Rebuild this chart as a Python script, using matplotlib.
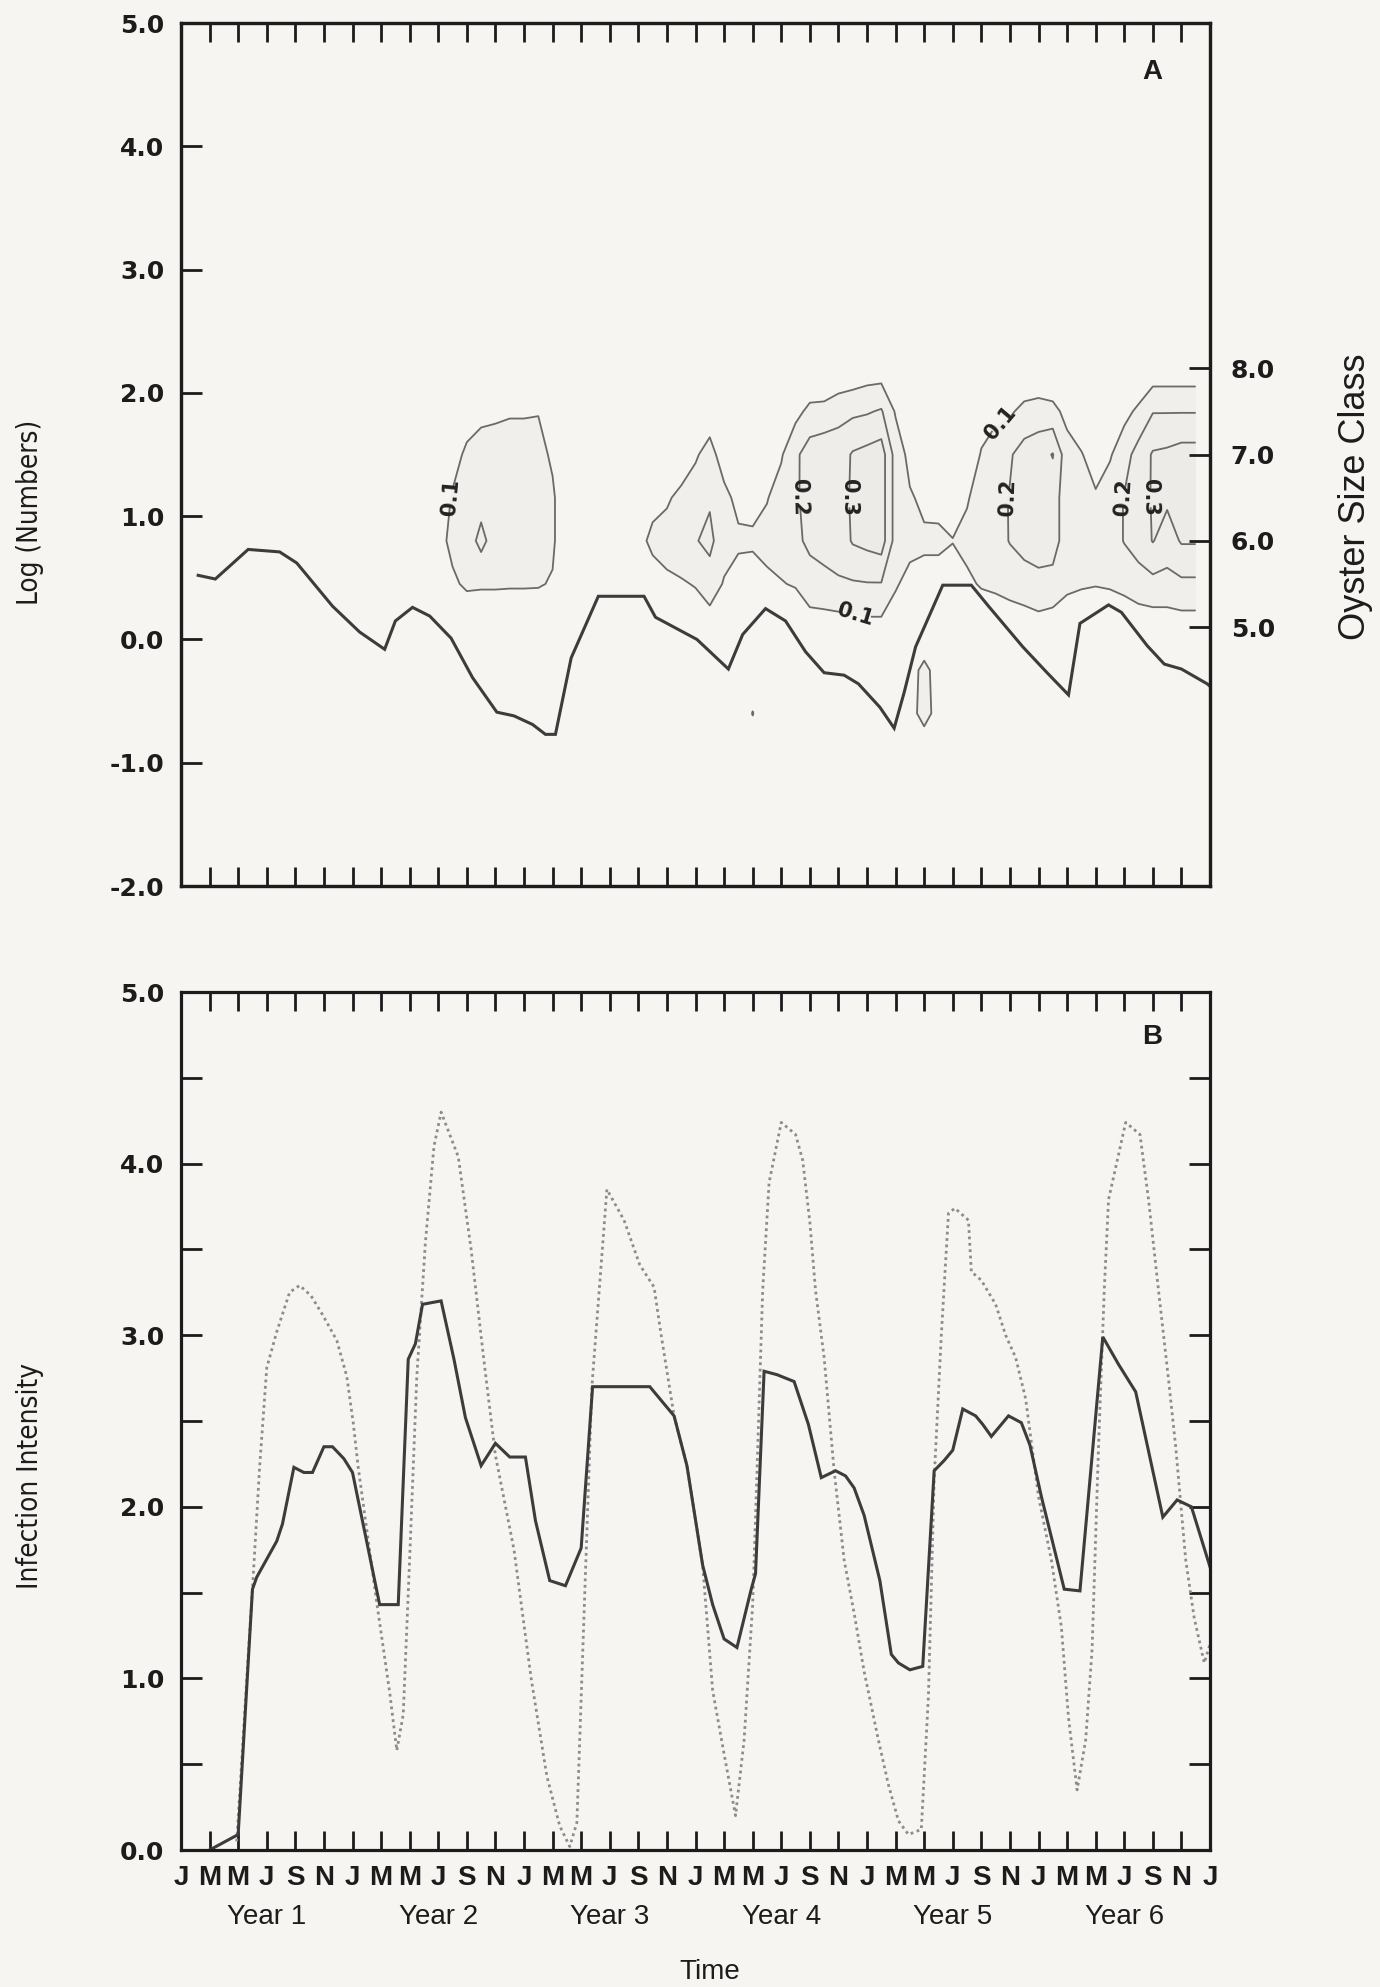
import numpy as np
import matplotlib.pyplot as plt
from matplotlib.ticker import FormatStrFormatter, MultipleLocator
from matplotlib.transforms import blended_transform_factory

# ---- panel A: log numbers (thick line)
log_time = [1.2, 2.4, 4.7, 6.9, 8.1, 10.6, 12.5, 14.25, 15.0, 16.2, 17.4, 18.9, 20.4,
            22.1, 23.3, 24.6, 25.5, 26.2, 27.3, 29.2, 32.4, 33.2, 36.1, 38.3, 39.3,
            40.9, 42.3, 43.7, 45.0, 46.4, 47.4, 48.9, 49.9, 50.6, 51.4, 53.3, 55.3,
            56.5, 58.9, 60.6, 62.1, 62.9, 64.9, 65.8, 67.6, 68.8, 70.0, 71.8, 72.0]
log_numbers = [0.52, 0.49, 0.73, 0.71, 0.62, 0.27, 0.06, -0.08, 0.15, 0.26, 0.19, 0.01, -0.31,
               -0.59, -0.62, -0.69, -0.77, -0.77, -0.15, 0.35, 0.35, 0.18, 0.0, -0.24, 0.04,
               0.25, 0.15, -0.10, -0.27, -0.29, -0.36, -0.55, -0.72, -0.43, -0.06, 0.44, 0.44,
               0.27, -0.06, -0.27, -0.45, 0.13, 0.28, 0.22, -0.05, -0.20, -0.24, -0.36, -0.38]

# ---- panel A: contour field, months x oyster size class
grid_months = list(range(17, 72))
size_classes = [3.5, 4.0, 4.5, 5.0, 5.5, 6.0, 6.5, 7.0, 7.5, 8.0]
# one column per month, values for each size class (3.5 ... 8.0)
prevalence_cols = [
    [0, 0, 0, 0, 0, 0, 0, 0, 0, 0],                              # 17
    [0, 0, 0, 0, 0, 0.06, 0.03, 0, 0, 0],                        # 18
    [0, 0, 0, 0, 0.08, 0.13, 0.11, 0.06, 0, 0],                  # 19
    [0, 0, 0, 0, 0.12, 0.15, 0.15, 0.12, 0.05, 0],               # 20
    [0, 0, 0, 0, 0.115, 0.23, 0.16, 0.15, 0.07, 0],              # 21
    [0, 0, 0, 0, 0.115, 0.15, 0.15, 0.15, 0.08, 0],              # 22
    [0, 0, 0, 0, 0.112, 0.15, 0.15, 0.15, 0.09, 0],              # 23
    [0, 0, 0, 0, 0.112, 0.15, 0.15, 0.15, 0.09, 0],              # 24
    [0, 0, 0, 0, 0.11, 0.14, 0.14, 0.14, 0.095, 0],              # 25
    [0, 0, 0, 0, 0.09, 0.12, 0.12, 0.08, 0.03, 0],               # 26
    [0, 0, 0, 0, 0, 0, 0, 0, 0, 0],                              # 27
    [0, 0, 0, 0, 0, 0, 0, 0, 0, 0],                              # 28
    [0, 0, 0, 0, 0, 0, 0, 0, 0, 0],                              # 29
    [0, 0, 0, 0, 0, 0, 0, 0, 0, 0],                              # 30
    [0, 0, 0, 0, 0, 0, 0, 0, 0, 0],                              # 31
    [0, 0, 0, 0, 0, 0.08, 0, 0, 0, 0],                           # 32
    [0, 0, 0, 0, 0.07, 0.115, 0.08, 0, 0, 0],                    # 33
    [0, 0, 0, 0, 0.085, 0.13, 0.09, 0, 0, 0],                    # 34
    [0, 0, 0, 0, 0.092, 0.15, 0.12, 0.049, 0, 0],                # 35
    [0, 0, 0, 0.05, 0.105, 0.195, 0.15, 0.0875, 0, 0],           # 36
    [0, 0, 0, 0.036, 0.164, 0.22, 0.19, 0.14, 0.04, 0],          # 37
    [0, 0, 0, 0, 0.09, 0.15, 0.13, 0.047, 0, 0],                 # 38
    [0, 0, 0, 0, 0.053, 0.12, 0.07, 0, 0, 0],                    # 39
    [0, 0.105, 0, 0, 0.07, 0.11, 0.08, 0, 0, 0],                 # 40
    [0, 0, 0, 0, 0.08, 0.13, 0.095, 0.05, 0, 0],                 # 41
    [0, 0, 0, 0.05, 0.095, 0.14, 0.14, 0.09, 0.03, 0],           # 42
    [0, 0, 0, 0.02, 0.108, 0.185, 0.185, 0.18, 0.07, 0],         # 43
    [0, 0, 0, 0.04, 0.17, 0.215, 0.24, 0.25, 0.125, 0],          # 44
    [0, 0, 0, 0.04, 0.185, 0.22, 0.26, 0.27, 0.13, 0],           # 45
    [0, 0, 0, 0.05, 0.19, 0.24, 0.24, 0.25, 0.17, 0],            # 46
    [0, 0, 0, 0.06, 0.19, 0.31, 0.32, 0.31, 0.18, 0.02],         # 47
    [0, 0, 0, 0.07, 0.195, 0.33, 0.34, 0.33, 0.19, 0.04],        # 48
    [0, 0, 0, 0.07, 0.195, 0.35, 0.35, 0.35, 0.21, 0.04],        # 49
    [0, 0, 0, 0.05, 0.11, 0.16, 0.16, 0.16, 0.09, 0],            # 50
    [0, 0.07, 0.07, 0.02, 0.07, 0.13, 0.11, 0.07, 0, 0],         # 51
    [0.03, 0.13, 0.12, 0.03, 0.07, 0.115, 0.08, 0, 0, 0],        # 52
    [0, 0.07, 0.07, 0, 0.08, 0.11, 0.085, 0, 0, 0],              # 53
    [0, 0, 0, 0, 0.085, 0.101, 0.085, 0, 0, 0],                  # 54
    [0, 0, 0, 0, 0.08, 0.13, 0.09, 0, 0, 0],                     # 55
    [0, 0, 0, 0.02, 0.11, 0.15, 0.15, 0.11, 0.04, 0],            # 56
    [0, 0, 0, 0.03, 0.12, 0.16, 0.17, 0.16, 0.07, 0],            # 57
    [0, 0, 0, 0.035, 0.14, 0.205, 0.205, 0.19, 0.085, 0],        # 58
    [0, 0, 0, 0.05, 0.15, 0.24, 0.25, 0.24, 0.13, 0],            # 59
    [0, 0, 0, 0.06, 0.17, 0.25, 0.26, 0.26, 0.145, 0],           # 60
    [0, 0, 0, 0.05, 0.16, 0.25, 0.25, 0.305, 0.13, 0],           # 61
    [0, 0, 0, 0.04, 0.12, 0.14, 0.14, 0.14, 0.07, 0],            # 62
    [0, 0, 0, 0.03, 0.11, 0.13, 0.13, 0.105, 0.04, 0],           # 63
    [0, 0, 0, 0.02, 0.105, 0.125, 0.11, 0.06, 0, 0],             # 64
    [0, 0, 0, 0.03, 0.11, 0.15, 0.15, 0.09, 0.02, 0],            # 65
    [0, 0, 0, 0.02, 0.13, 0.205, 0.205, 0.16, 0.07, 0],          # 66
    [0, 0, 0, 0.03, 0.16, 0.24, 0.25, 0.24, 0.12, 0],            # 67
    [0, 0, 0, 0.04, 0.17, 0.305, 0.31, 0.31, 0.195, 0.03],       # 68
    [0, 0, 0, 0.04, 0.17, 0.25, 0.32, 0.32, 0.195, 0.03],        # 69
    [0, 0, 0, 0.05, 0.18, 0.31, 0.32, 0.34, 0.195, 0.03],        # 70
    [0, 0, 0, 0.05, 0.18, 0.31, 0.32, 0.34, 0.195, 0.03],        # 71
]
contour_levels = [0.1, 0.2, 0.3]

# ---- panel B: infection intensity
solid_time = [2.0, 4.0, 5.0, 5.3, 6.7, 7.1, 7.9, 8.6, 9.2, 10.0, 10.6, 11.4, 12.0, 13.9,
              15.2, 15.9, 16.4, 16.9, 18.2, 19.1, 19.9, 21.0, 22.0, 23.0, 24.1, 24.8,
              25.8, 26.9, 28.0, 28.8, 32.8, 34.5, 35.4, 36.5, 37.2, 38.0, 38.9, 39.9,
              40.2, 40.8, 41.7, 42.9, 43.9, 44.8, 45.8, 46.5, 47.1, 47.8, 48.9, 49.7,
              50.2, 51.0, 51.9, 52.7, 53.4, 54.0, 54.7, 55.6, 56.1, 56.7, 57.9, 58.8,
              59.4, 60.2, 61.8, 62.9, 64.5, 65.6, 66.8, 68.7, 69.7, 70.7, 72.0]
solid_value = [0.0, 0.09, 1.52, 1.59, 1.80, 1.90, 2.23, 2.20, 2.20, 2.35, 2.35, 2.28, 2.20, 1.43,
               1.43, 2.86, 2.95, 3.18, 3.20, 2.86, 2.52, 2.24, 2.37, 2.29, 2.29, 1.92,
               1.57, 1.54, 1.76, 2.70, 2.70, 2.53, 2.24, 1.66, 1.43, 1.23, 1.18, 1.52,
               1.61, 2.79, 2.77, 2.73, 2.48, 2.17, 2.21, 2.18, 2.11, 1.95, 1.57, 1.14,
               1.09, 1.05, 1.07, 2.21, 2.27, 2.33, 2.57, 2.53, 2.48, 2.41, 2.53, 2.49,
               2.36, 2.06, 1.52, 1.51, 2.99, 2.83, 2.67, 1.94, 2.04, 2.00, 1.65]

dotted_time = [3.9, 4.7, 5.0, 5.5, 6.0, 6.7, 7.6, 8.3, 9.1, 9.9, 10.9, 11.6, 12.05, 12.4,
               13.7, 14.6, 15.1, 15.55, 16.0, 16.5, 17.1, 17.7, 18.2, 19.4, 20.3, 21.2,
               22.0, 23.3, 24.5, 25.6, 26.5, 27.2, 27.7, 28.75, 29.8, 31.0, 32.1, 33.1,
               33.6, 34.5, 35.4, 36.5, 37.2, 38.0, 38.8, 39.4, 40.0, 40.3, 40.7, 41.15,
               42.0, 43.0, 43.5, 44.0, 44.4, 45.0, 45.7, 46.4, 47.1, 47.8, 48.8, 49.5,
               50.2, 50.9, 51.8, 52.3, 52.7, 53.2, 53.7, 54.15, 55.1, 55.3, 56.0, 57.0,
               57.7, 58.4, 59.1, 60.0, 60.9, 61.6, 62.1, 62.7, 63.3, 63.75, 64.2, 64.6,
               64.9, 66.1, 67.1, 67.7, 68.4, 69.1, 69.6, 70.3, 70.9, 71.6, 72.0]
dotted_value = [0.05, 1.13, 1.52, 2.23, 2.81, 3.02, 3.25, 3.29, 3.23, 3.12, 2.97, 2.76, 2.49, 2.23,
                1.44, 0.92, 0.58, 0.79, 1.70, 2.76, 3.54, 4.10, 4.30, 4.04, 3.50, 2.85,
                2.30, 1.75, 1.00, 0.43, 0.14, 0.02, 0.16, 2.70, 3.85, 3.67, 3.41, 3.28,
                3.00, 2.53, 2.24, 1.66, 0.93, 0.56, 0.20, 0.64, 1.43, 2.20, 3.26, 3.89,
                4.24, 4.17, 4.02, 3.66, 3.26, 2.87, 2.21, 1.69, 1.38, 1.04, 0.64, 0.38,
                0.17, 0.09, 0.12, 0.90, 2.16, 3.00, 3.71, 3.74, 3.67, 3.37, 3.32, 3.18,
                3.00, 2.87, 2.63, 2.06, 1.69, 1.30, 0.77, 0.35, 0.64, 1.17, 2.35, 3.26,
                3.79, 4.24, 4.17, 3.79, 3.26, 2.74, 2.35, 1.69, 1.35, 1.09, 1.20]

month_letters = ['J', 'M', 'M', 'J', 'S', 'N'] * 6 + ['J']
year_labels = ['Year 1', 'Year 2', 'Year 3', 'Year 4', 'Year 5', 'Year 6']

# ---- style
bg = '#f6f5f2'
ink = '#1c1c1c'
plt.rcParams['axes.unicode_minus'] = False
plt.rcParams['font.family'] = ['DejaVu Sans']
plain_font = ['Liberation Sans', 'DejaVu Sans']

fig = plt.figure(figsize=(13.8, 19.87), dpi=100, facecolor=bg)
W, H = 1380.0, 1987.0
axA = fig.add_axes([181 / W, 1 - 886 / H, 1029 / W, 863 / H])
axB = fig.add_axes([181 / W, 1 - 1850 / H, 1029 / W, 858 / H])


def style_spines(ax):
    for sp in ax.spines.values():
        sp.set_linewidth(2.3)
        sp.set_color(ink)


# ---------- panel A ----------
axS = axA.twinx()
axA.set_zorder(axS.get_zorder() + 1)
axA.patch.set_visible(False)
axS.patch.set_facecolor(bg)
axS.patch.set_visible(True)

Z = np.array(prevalence_cols).T
axS.contourf(grid_months, size_classes, Z, levels=[0.1, 0.2, 0.3, 1.0],
             colors=['#f0efec', '#eeede9', '#ecebe7'])
cs = axS.contour(grid_months, size_classes, Z, levels=contour_levels,
                 colors='#6a6a6a', linewidths=1.3)
label_spots = [(19.0, 6.5), (43.4, 6.5), (47.0, 6.5), (47.2, 5.15),
               (57.5, 7.35), (58.0, 6.5), (66.0, 6.5), (67.9, 6.5)]
clabels = axS.clabel(cs, inline=True, fontsize=15, fmt='%.1f', manual=label_spots,
                     colors='#222222')
for t in clabels:
    t.set_fontweight('bold')

axA.plot(log_time, log_numbers, color='#3c3c3c', lw=2.2, solid_joinstyle='miter')

axA.set_xlim(0, 72)
axA.set_ylim(-2, 5)
axS.set_ylim(2, 12)
axA.set_xticks(range(0, 73, 2))
axA.tick_params(axis='x', direction='in', top=True, bottom=True, labelbottom=False,
                length=14, width=2, color=ink)
axA.set_yticks(range(-2, 6))
axA.yaxis.set_major_formatter(FormatStrFormatter('%.1f'))
axA.tick_params(axis='y', direction='in', left=True, right=False, length=15, width=2,
                pad=12, labelsize=18, color=ink, labelcolor=ink)
plt.setp(axA.get_yticklabels(), fontweight='bold')

axS.set_yticks([5, 6, 7, 8])
axS.yaxis.set_major_formatter(FormatStrFormatter('%.1f'))
axS.tick_params(axis='y', direction='in', length=15, width=2, pad=15, labelsize=18,
                color=ink, labelcolor=ink)
plt.setp(axS.get_yticklabels(), fontweight='bold')
axS.set_ylabel('Oyster Size Class', fontsize=26, family=plain_font, color=ink)
axS.yaxis.set_label_coords(1.124, 0.451)

axA.set_ylabel('Log (Numbers)', fontsize=20, family='DejaVu Sans',
               fontstretch='condensed', color=ink)
axA.yaxis.set_label_coords(-0.133, 0.433)
axA.text(0.944, 0.943, 'A', transform=axA.transAxes, fontsize=20, fontweight='bold',
         family=plain_font, ha='center', va='center', color=ink)
style_spines(axA)
style_spines(axS)

# ---------- panel B ----------
axB.set_facecolor(bg)
axB.plot(dotted_time, dotted_value, color='#8c8c8c', lw=2.0, linestyle=(0, (1, 1.3)))
axB.plot(solid_time, solid_value, color='#3c3c3c', lw=2.2, solid_joinstyle='miter')

axB.set_xlim(0, 72)
axB.set_ylim(0, 5)
axB.set_xticks(range(0, 73, 2))
axB.set_xticklabels(month_letters)
axB.tick_params(axis='x', direction='in', top=True, bottom=True, length=14, width=2,
                pad=11, labelsize=20, color=ink, labelcolor=ink)
plt.setp(axB.get_xticklabels(), fontweight='bold', family=plain_font)
axB.set_yticks(range(0, 6))
axB.yaxis.set_minor_locator(MultipleLocator(0.5))
axB.yaxis.set_major_formatter(FormatStrFormatter('%.1f'))
axB.tick_params(axis='y', which='both', direction='in', left=True, right=True,
                length=15, width=2, pad=12, labelsize=18, color=ink, labelcolor=ink)
plt.setp(axB.get_yticklabels(), fontweight='bold')

trans = blended_transform_factory(axB.transData, axB.transAxes)
for i, lab in enumerate(year_labels):
    axB.text(6 + 12 * i, -0.078, lab, transform=trans, ha='center', va='center',
             fontsize=20, family=plain_font, color=ink)

axB.set_ylabel('Infection Intensity', fontsize=20, family='DejaVu Sans',
               fontstretch='condensed', color=ink)
axB.yaxis.set_label_coords(-0.133, 0.436)
axB.text(0.944, 0.948, 'B', transform=axB.transAxes, fontsize=20, fontweight='bold',
         family=plain_font, ha='center', va='center', color=ink)
fig.text(0.514, 0.0075, 'Time', ha='center', va='center', fontsize=20,
         family=plain_font, color=ink)
style_spines(axB)

fig.savefig('out.png', dpi=100, facecolor=bg)
